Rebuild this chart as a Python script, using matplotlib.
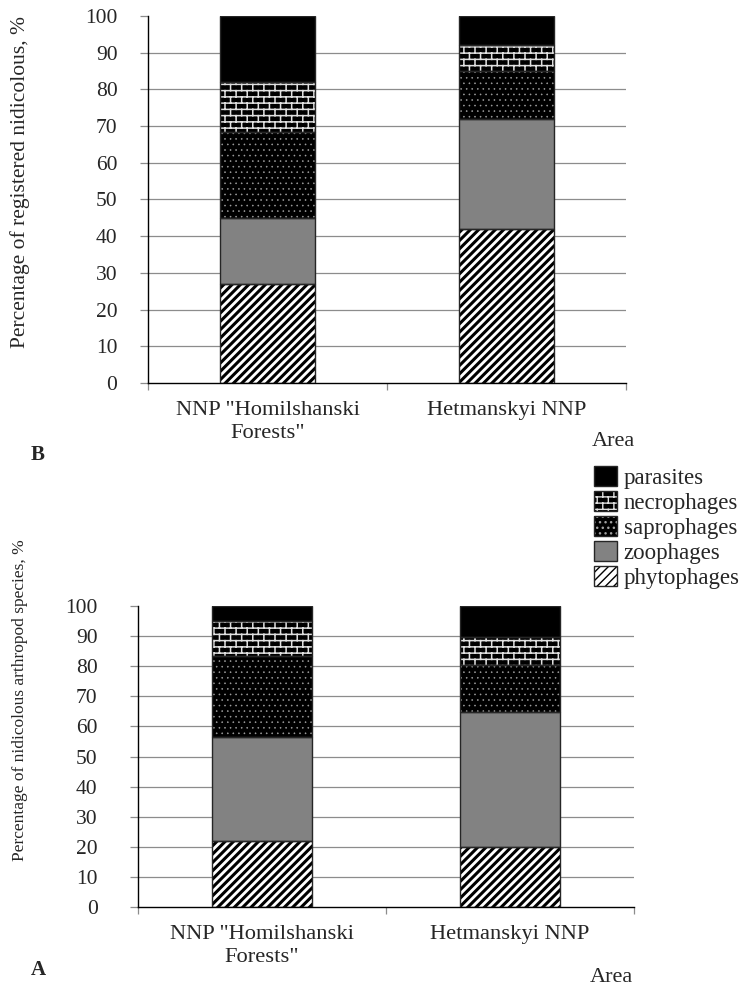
import warnings
warnings.filterwarnings('ignore')
import numpy as np
import matplotlib
matplotlib.use('Agg')
import matplotlib.pyplot as plt
from matplotlib import hatch as mhatch
from matplotlib.path import Path
from matplotlib.patches import Patch

# ---------------- data ----------------
categories = ['NNP "Homilshanski\nForests"', 'Hetmanskyi NNP']
groups = ['phytophages', 'zoophages', 'saprophages', 'necrophages', 'parasites']

# Panel B: percentage of registered nidicolous, %
b_phytophages = [27.0, 42.0]
b_zoophages = [18.0, 30.0]
b_saprophages = [23.5, 13.0]
b_necrophages = [13.5, 7.0]
b_parasites = [18.0, 8.0]

# Panel A: percentage of nidicolous arthropod species, %
a_phytophages = [22.0, 20.0]
a_zoophages = [34.5, 44.7]
a_saprophages = [27.0, 15.8]
a_necrophages = [11.5, 9.2]
a_parasites = [5.0, 10.3]

y_ticks = list(range(0, 101, 10))

# ---------------- custom brick hatch ----------------
class BrickHatch(mhatch.HatchPatternBase):
    def __init__(self, hatch, density):
        segs = []
        if hatch is not None and 'b' in hatch:
            rows, cols = 16, 9
            for r in range(rows):
                y = (r + 0.5) / rows
                segs.append(((0.0, y), (1.0, y)))
            for r in range(rows):
                y0 = (r + 0.5) / rows
                y1 = (r + 1.5) / rows
                off = 0.75 if r % 2 else 0.25
                for c in range(cols):
                    x = (c + off) / cols
                    if y1 <= 1.0:
                        segs.append(((x, y0), (x, y1)))
                    else:
                        segs.append(((x, y0), (x, 1.0)))
                        segs.append(((x, 0.0), (x, y1 - 1.0)))
        self.segs = segs
        self.num_vertices = 2 * len(segs)

    def set_vertices_and_codes(self, vertices, codes):
        k = 0
        for p0, p1 in self.segs:
            vertices[k] = p0
            vertices[k + 1] = p1
            codes[k] = Path.MOVETO
            codes[k + 1] = Path.LINETO
            k += 2

mhatch._hatch_types.append(BrickHatch)

# ---------------- style ----------------
FONT = ['Liberation Serif', 'DejaVu Serif']
plt.rcParams['font.family'] = FONT
TXT = '#262626'
GRID = '#8c8c8c'
EDGE = '#262626'

styles = {
    'phytophages': dict(face='white', hatch='////', hc='black', hlw=2.2),
    'zoophages': dict(face='#828282', hatch=None, hc='#828282', hlw=1.0),
    'saprophages': dict(face='black', hatch='...', hc='#a0a0a0', hlw=0.4),
    'necrophages': dict(face='black', hatch='b', hc='#e0e0e0', hlw=1.1),
    'parasites': dict(face='black', hatch=None, hc='black', hlw=1.0),
}

W, H = 741, 990
fig = plt.figure(figsize=(W / 100, H / 100), dpi=100)


def set_hlw(artist, lw):
    if hasattr(artist, 'set_hatch_linewidth'):
        artist.set_hatch_linewidth(lw)


def draw_panel(ax, series, ypad):
    x = np.arange(len(categories))
    bottom = np.zeros(len(categories))
    for name, vals in series:
        st = styles[name]
        vals = np.asarray(vals)
        bars = ax.bar(x, vals, 0.4, bottom=bottom, color=st['face'],
                      edgecolor=st['hc'], linewidth=0, hatch=st['hatch'], zorder=2)
        for b in bars:
            set_hlw(b, st['hlw'])
        ax.bar(x, vals, 0.4, bottom=bottom, fill=False, edgecolor=EDGE,
               linewidth=1.0, zorder=3)
        bottom = bottom + vals
    ax.set_xlim(-0.5, len(categories) - 0.5)
    ax.set_ylim(0, 100)
    ax.set_yticks(y_ticks)
    for t in y_ticks[1:-1]:
        ax.axhline(t, color=GRID, lw=0.9, zorder=1)
    ax.set_xticks(x)
    ax.set_xticklabels(categories, fontsize=16.2, color=TXT, linespacing=1.25)
    ax.set_xticks(np.arange(len(categories) + 1) - 0.5, minor=True)
    ax.tick_params(axis='x', which='major', length=0, pad=ypad[1])
    ax.tick_params(axis='x', which='minor', length=5, color=GRID, width=0.9)
    ax.tick_params(axis='y', length=6, color=GRID, width=0.9,
                   labelsize=15.5, labelcolor=TXT, pad=ypad[0])
    for s in ['top', 'right']:
        ax.spines[s].set_visible(False)
    ax.spines['left'].set_color('black')
    ax.spines['bottom'].set_color('black')
    ax.spines['left'].set_linewidth(1.0)
    ax.spines['bottom'].set_linewidth(1.0)


# Panel B (top)
axB = fig.add_axes([148 / W, 1 - 383 / H, (626 - 148) / W, (383 - 16) / H])
draw_panel(axB, [('phytophages', b_phytophages), ('zoophages', b_zoophages),
                 ('saprophages', b_saprophages), ('necrophages', b_necrophages),
                 ('parasites', b_parasites)], ypad=(16, 13))

# Panel A (bottom)
axA = fig.add_axes([138 / W, 1 - 907 / H, (634 - 138) / W, (907 - 606) / H])
draw_panel(axA, [('phytophages', a_phytophages), ('zoophages', a_zoophages),
                 ('saprophages', a_saprophages), ('necrophages', a_necrophages),
                 ('parasites', a_parasites)], ypad=(23, 13))

# texts
fig.text(20 / W, 1 - 182 / H, 'Percentage of registered nidicolous, %', rotation=90,
         ha='center', va='center', fontsize=15.5, color=TXT)
fig.text(20 / W, 1 - 700 / H, 'Percentage of nidicolous arthropod species, %', rotation=90,
         ha='center', va='center', fontsize=12.5, color=TXT)
fig.text(38 / W, 1 - 455 / H, 'B', ha='center', va='center', fontsize=15, fontweight='bold', color=TXT)
fig.text(38 / W, 1 - 970 / H, 'A', ha='center', va='center', fontsize=15, fontweight='bold', color=TXT)
fig.text(613 / W, 1 - 441 / H, 'Area', ha='center', va='center', fontsize=16, color=TXT)
fig.text(611 / W, 1 - 978 / H, 'Area', ha='center', va='center', fontsize=16, color=TXT)

# legend
handles = []
labels = []
for name in groups[::-1]:
    st = styles[name]
    p = Patch(facecolor=st['face'], edgecolor=st['hc'], hatch=st['hatch'], linewidth=0)
    set_hlw(p, st['hlw'])
    o = Patch(facecolor='none', edgecolor=EDGE, linewidth=1.0)
    handles.append((p, o))
    labels.append(name)
fig.legend(handles, labels, loc='upper left', bbox_to_anchor=(594 / W, 1 - 466 / H),
           frameon=False, fontsize=16.5, labelspacing=0.1, handlelength=1.0,
           handleheight=0.95, handletextpad=0.3, borderpad=0, borderaxespad=0,
           labelcolor=TXT)

fig.savefig('out.png', dpi=100)
